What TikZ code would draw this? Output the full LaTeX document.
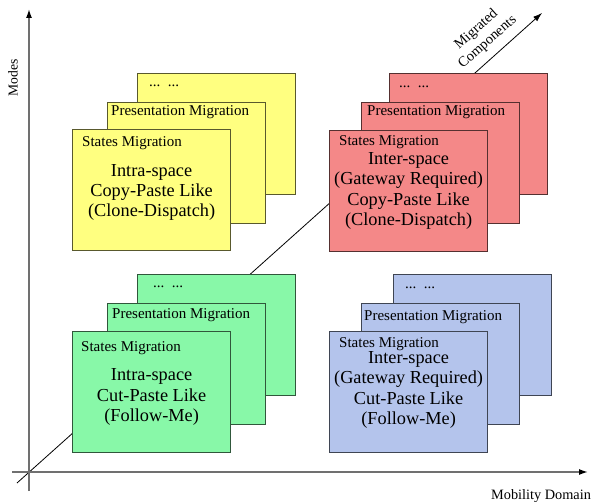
\documentclass[tikz,border=0pt]{standalone}
\usepackage{fontspec}
\setmainfont{Liberation Serif}
\usetikzlibrary{arrows.meta,calc}
\definecolor{yfill}{HTML}{FFFF80}
\definecolor{rfill}{HTML}{F48888}
\definecolor{gfill}{HTML}{88F8A8}
\definecolor{bfill}{HTML}{B4C4EC}
\definecolor{axisgray}{HTML}{707070}
\begin{document}
\begin{tikzpicture}[x=1pt,y=-1pt,
  card/.style={draw=#1!35!black, fill=#1, line width=1.2pt, minimum width=158pt, minimum height=121pt, inner sep=0pt, anchor=north west},
  small/.style={font=\fontsize{15}{16}\selectfont, inner sep=0pt, anchor=west},
  big/.style={font=\fontsize{18.3}{20.3}\selectfont, align=center, inner sep=0pt},
  axislabel/.style={font=\fontsize{14.3}{17}\selectfont, inner sep=0pt},
  axisline/.style={draw=axisgray, line width=1.5pt, -{Latex[black,length=9pt,width=6pt]}},
  diag/.style={draw=black, line width=0.8pt, -{Latex[length=9pt,width=6pt]}}
]
\useasboundingbox (0,0) rectangle (594,502);

% diagonal axis (behind the cards)
\coordinate (d0) at (17,483);
\coordinate (d1) at (542,13);
\draw[diag] (d0) -- (d1);

% axes
\coordinate (v0) at (29,491);
\coordinate (v1) at (29,9);
\coordinate (h0) at (12,472);
\coordinate (h1) at (588,472);
\draw[axisline] (v0) -- (v1);
\draw[axisline] (h0) -- (h1);

\node[axislabel, rotate=90, font=\fontsize{13.6}{16}\selectfont] (modes) at (13,78) {Modes};
\node[axislabel, anchor=west] (mob) at (491,496) {Mobility Domain};
\node[axislabel, rotate=41.7, align=center] (mig) at (482,36) {Migrated\\Components};

% yellow stack
\node[card=yfill] (y3) at (137,73) {};
\node[card=yfill] (y2) at (107,102) {};
\node[card=yfill] (y1) at (72,129) {};
\node[small] (y3t) at ($(y3.north west)+(12,13)$) {...\ \ ...};
\node[small] (y2t) at ($(y2.north west)+(4,10)$) {Presentation Migration};
\node[small] (y1t) at ($(y1.north west)+(10,14)$) {States Migration};
\node[big] (y1m) at ($(y1.center)+(0,2.5)$) {Intra-space\\Copy-Paste Like\\(Clone-Dispatch)};

% red stack
\node[card=rfill] (r3) at (389,73) {};
\node[card=rfill] (r2) at (361,102) {};
\node[card=rfill] (r1) at (329,130) {};
\node[small] (r3t) at ($(r3.north west)+(10,14)$) {...\ \ ...};
\node[small] (r2t) at ($(r2.north west)+(6,10)$) {Presentation Migration};
\node[small] (r1t) at ($(r1.north west)+(10,12)$) {States Migration};
\node[big] (r1m) at ($(r1.center)+(0,0)$) {Inter-space\\(Gateway Required)\\Copy-Paste Like\\(Clone-Dispatch)};

% green stack
\node[card=gfill] (g3) at (137,274) {};
\node[card=gfill] (g2) at (107,303) {};
\node[card=gfill] (g1) at (72,331) {};
\node[small] (g3t) at ($(g3.north west)+(16,13)$) {...\ \ ...};
\node[small] (g2t) at ($(g2.north west)+(5,12)$) {Presentation Migration};
\node[small] (g1t) at ($(g1.north west)+(9,17)$) {States Migration};
\node[big] (g1m) at ($(g1.center)+(0,5)$) {Intra-space\\Cut-Paste Like\\(Follow-Me)};

% blue stack
\node[card=bfill] (b3) at (393,274) {};
\node[card=bfill] (b2) at (361,303) {};
\node[card=bfill] (b1) at (329,331) {};
\node[small] (b3t) at ($(b3.north west)+(12,14)$) {...\ \ ...};
\node[small] (b2t) at ($(b2.north west)+(3,14)$) {Presentation Migration};
\node[small] (b1t) at ($(b1.north west)+(10,13)$) {States Migration};
\node[big] (b1m) at ($(b1.center)+(0,-2)$) {Inter-space\\(Gateway Required)\\Cut-Paste Like\\(Follow-Me)};
\end{tikzpicture}
\end{document}
